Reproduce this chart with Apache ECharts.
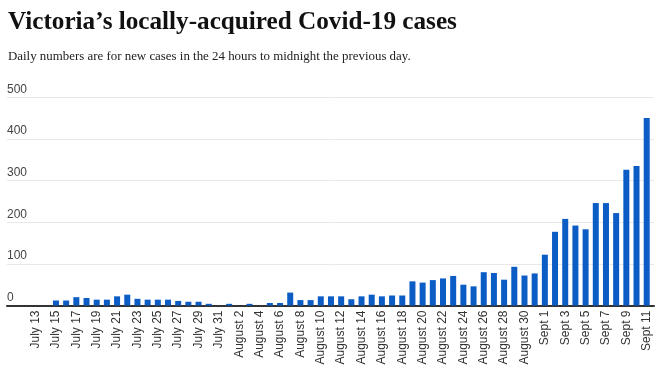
<!DOCTYPE html>
<html><head><meta charset="utf-8">
<script src="https://cdn.jsdelivr.net/npm/echarts@6/dist/echarts.min.js"></script>
<style>html,body{margin:0;padding:0;background:#fff}#c{width:663px;height:378px}</style>
</head><body><div id="c"></div>
<script>
const categories = [
 "July 13","July 14","July 15","July 16","July 17","July 18","July 19","July 20","July 21","July 22",
 "July 23","July 24","July 25","July 26","July 27","July 28","July 29","July 30","July 31",
 "August 1","August 2","August 3","August 4","August 5","August 6","August 7","August 8","August 9",
 "August 10","August 11","August 12","August 13","August 14","August 15","August 16","August 17",
 "August 18","August 19","August 20","August 21","August 22","August 23","August 24","August 25",
 "August 26","August 27","August 28","August 29","August 30","August 31",
 "Sept 1","Sept 2","Sept 3","Sept 4","Sept 5","Sept 6","Sept 7","Sept 8","Sept 9","Sept 10","Sept 11"
];
const cases = [
 0,0,12,12,20,18,14,14,22,26,
 16,14,14,14,11,9,9,4,0,
 4,0,4,0,6,6,31,13,13,
 22,22,22,15,22,26,22,24,
 24,58,55,61,65,71,50,46,
 80,78,62,93,72,77,
 122,177,208,192,183,246,246,222,326,335,450
];
const yTicks = [0,100,200,300,400,500];
const titleText = "Victoria’s locally-acquired Covid-19 cases";
const subtitleText = "Daily numbers are for new cases in the 24 hours to midnight the previous day.";

const chart = echarts.init(document.getElementById('c'), null, {renderer:'canvas'});
const gTop = 97.3, gHeight = 208.2;
chart.setOption({
  animation:false,
  title:[
    {text:titleText,left:3,top:5,textStyle:{fontFamily:'Liberation Serif',fontWeight:'bold',fontSize:25.2,color:'#111'}},
    {text:subtitleText,left:3,top:45,textStyle:{fontFamily:'Liberation Serif',fontWeight:'normal',fontSize:12.9,color:'#222'}}
  ],
  grid:[
    {left:7,right:9,top:gTop,height:gHeight},
    {left:30.5,right:11.2,top:gTop,height:gHeight}
  ],
  xAxis:[
    {gridIndex:0,type:'value',min:0,max:1,axisLabel:{show:false},axisTick:{show:false},splitLine:{show:false},
     axisLine:{show:true,lineStyle:{color:'#333',width:2}}},
    {gridIndex:1,type:'category',data:categories,axisLine:{show:false},axisTick:{show:false},
     axisLabel:{interval:1,rotate:90,fontSize:12,fontFamily:'Liberation Sans',color:'#333',margin:5}}
  ],
  yAxis:[
    {gridIndex:0,type:'value',min:yTicks[0],max:yTicks[yTicks.length-1],interval:100,
     axisLine:{show:false},axisTick:{show:false},
     splitLine:{lineStyle:{color:'#e8e8e8',width:1}},
     axisLabel:{inside:true,margin:0,verticalAlign:'bottom',padding:[0,0,2,0],fontSize:12,fontFamily:'Liberation Sans',color:'#444'}},
    {gridIndex:1,type:'value',min:0,max:500,show:false}
  ],
  series:[{type:'bar',xAxisIndex:1,yAxisIndex:1,data:cases,barWidth:6,itemStyle:{color:'#0b5cc5'}}]
});
</script></body></html>
